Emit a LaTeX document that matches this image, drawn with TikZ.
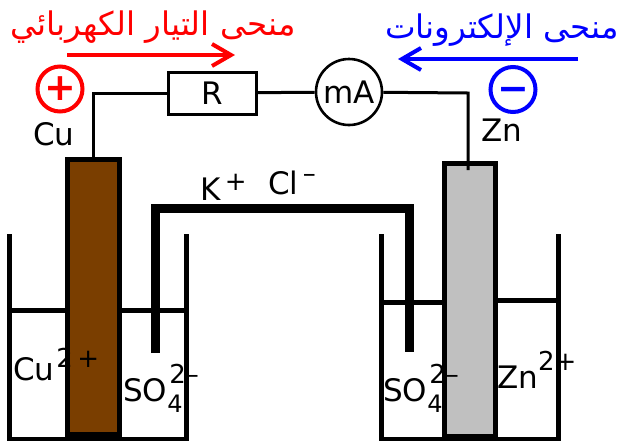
\documentclass[tikz,border=0pt]{standalone}
\usepackage{fontspec}
\setmainfont{DejaVu Sans}
\newfontfamily\arabicfont[Script=Arabic]{DejaVu Sans}
\TeXXeTstate=1
\usetikzlibrary{positioning,calc,arrows.meta}
\definecolor{cubrown}{RGB}{122,62,0}
\definecolor{zngray}{RGB}{192,192,192}
\definecolor{purered}{RGB}{255,0,0}
\definecolor{pureblue}{RGB}{0,0,255}
\newcommand{\ionsup}[2][13pt]{\raisebox{#1}{\fontsize{26}{26}\selectfont #2}}
\newcommand{\ionsub}[1]{\raisebox{-11pt}{\fontsize{24}{24}\selectfont #1}}

\begin{document}
\begin{tikzpicture}[%
    x=1pt,y=-1pt,
    electrode/.style={draw=black,line width=5pt,minimum width=#1,anchor=north west,inner sep=0},
    wire/.style={draw,line width=3pt},
    wall/.style={draw,line width=5pt},
    label/.style={inner sep=0,anchor=base west,font=\fontsize{31}{31}\selectfont},
    sign/.style={circle,draw=#1,text=#1,line width=4pt,minimum size=45pt,inner sep=0,font=\fontsize{38}{38}\selectfont\bfseries},
    heading/.style={inner sep=0,text=#1,font=\fontsize{32.5}{32.5}\selectfont\arabicfont},
    flow/.style={draw=#1,line width=4pt,->,>={Straight Barb[length=19pt,width=22pt]}}
    ]
    \useasboundingbox (0,0) rectangle (618,440);
    %%% Bakers
    \coordinate (cu_top_l) at (9,234);
    \coordinate (cu_bot_l) at (9,439);
    \coordinate (cu_top_r) at (186,234);
    \coordinate (cu_bot_r) at (186,439);
    \coordinate (zn_top_l) at (381,234);
    \coordinate (zn_bot_l) at (381,439);
    \coordinate (zn_top_r) at (558,234);
    \coordinate (zn_bot_r) at (558,439);
    \path[wall] (cu_top_l) -- (cu_bot_l) -- (cu_bot_r) -- (cu_top_r);
    \path[wall] (zn_top_l) -- (zn_bot_l) -- (zn_bot_r) -- (zn_top_r);
    %%% Vloeistof
    \coordinate (cu_liq_l) at (9,310);
    \coordinate (cu_liq_r) at (186,310);
    \coordinate (zn_liq_l) at (381,302);
    \coordinate (zn_liq_m) at (447,302);
    \coordinate (zn_liq_n) at (495,300);
    \coordinate (zn_liq_r) at (558,300);
    \path[wall] (cu_liq_l) -- (cu_liq_r);
    \path[wall] (zn_liq_l) -- (zn_liq_m);
    \path[wall] (zn_liq_n) -- (zn_liq_r);
    %%% Elektroden
    \node[electrode=52pt,fill=cubrown,minimum height=275pt] (cu_plate) at (65,157) {};
    \node[electrode=51pt,fill=zngray,minimum height=273pt] (zn_plate) at (442,161) {};
    %%% Zoutbrug
    \coordinate (bridge_l) at (155,353);
    \coordinate (bridge_tl) at (155,208);
    \coordinate (bridge_tr) at (409,208);
    \coordinate (bridge_r) at (409,352);
    \path[draw,line width=9pt,line join=miter] (bridge_l) -- (bridge_tl) -- (bridge_tr) -- (bridge_r);
    %%% Keten
    \node[draw,line width=3pt,fill=white,minimum width=88pt,minimum height=42pt,inner sep=0,font=\fontsize{31}{31}\selectfont] (res) at (212,93) {R};
    \node[draw,circle,line width=2.6pt,fill=white,minimum size=66pt,inner sep=0,font=\fontsize{31}{31}\selectfont] (meter) at (349,92) {mA};
    \coordinate (cu_corner) at (93,93);
    \coordinate (cu_end) at (93,157);
    \coordinate (zn_corner) at (468,93);
    \coordinate (zn_end) at (468,170);
    \path[wire] (cu_end) -- (cu_corner) -- (res);
    \path[wire] (res) -- (meter);
    \path[wire] (meter) -- (zn_corner) -- (zn_end);
    %%% Polen
    \node[sign=purered] (plus) at (60,89) {+};
    \node[sign=pureblue] (minus) at (513,89.5) {\smash{\raisebox{-12pt}{−}}};
    \node[label] (cu_name) at (33,145) {Cu};
    \node[label] (zn_name) at (481,141) {Zn};
    %%% Stroomrichting
    \coordinate (red_from) at (67,55);
    \coordinate (red_to) at (235,55);
    \coordinate (blue_from) at (578,59);
    \coordinate (blue_to) at (398,59);
    \path[flow=purered] (red_from) -- (red_to);
    \path[flow=pureblue] (blue_from) -- (blue_to);
    \node[heading=purered] (red_title) at (153,27) {\beginR منحى التيار الكهربائي\endR};
    \node[heading=pureblue] (blue_title) at (502,30) {\beginR منحى الإلكترونات\endR};
    %%% Ionen
    \node[label] (k_ion) at (200,200) {K\ionsup[10pt]{\,+}};
    \node[label] (cl_ion) at (268,194) {Cl\ionsup[12pt]{\,–}};
    \node[label] (cu_ion) at (13,380) {Cu\kern2pt\ionsup{2\,+}};
    \node[label] (so_left) at (123,401) {SO\rlap{\ionsub{4}}\kern2pt\ionsup[18pt]{2–}};
    \node[label] (so_right) at (383,401) {SO\rlap{\ionsub{4}}\kern2pt\ionsup[18pt]{2–}};
    \node[label] (zn_ion) at (497,388) {Zn\ionsup[18pt]{2+}};
\end{tikzpicture}
\end{document}
